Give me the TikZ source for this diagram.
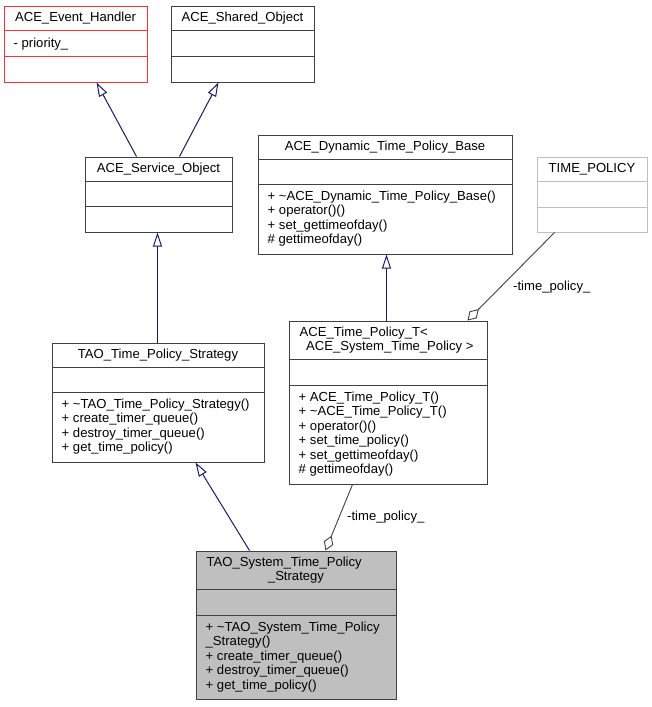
\documentclass[tikz,border=0pt]{standalone}
\usepackage{fontspec}
\setmainfont{Liberation Sans}
\usetikzlibrary{arrows.meta,fit,calc}
\definecolor{edgeblue}{HTML}{191970}
\definecolor{boxline}{HTML}{404040}
\definecolor{redline}{HTML}{FF3030}
\definecolor{lightline}{HTML}{BFBFBF}
\definecolor{grayfill}{HTML}{BFBFBF}
\newcommand\umlseps[4]{%
  \draw[#4,line width=0.9pt] ($(#1.north west)+(0,#2)$) -- ($(#1.north east)+(0,#2)$);
  \draw[#4,line width=0.9pt] ($(#1.north west)+(0,#3)$) -- ($(#1.north east)+(0,#3)$);}
\begin{document}
\begin{tikzpicture}[x=1pt,y=-1pt,
  box/.style={draw=boxline,line width=1pt,inner sep=0pt},
  ttl/.style={anchor=base,inner sep=0pt,font=\fontsize{13.1}{14.4}\selectfont},
  ttlw/.style={anchor=base west,inner sep=0pt,font=\fontsize{13.1}{14.4}\selectfont},
  mem/.style={anchor=base west,inner sep=0pt,font=\fontsize{13.1}{14.4}\selectfont},
  lbl/.style={anchor=base west,inner sep=0pt,font=\fontsize{13.1}{14.4}\selectfont},
  inh/.style={draw=edgeblue,line width=1pt,-{Triangle[open,length=14pt,width=9pt,fill=white]}},
  agg/.style={draw=boxline,line width=0.9pt,-{Diamond[open,length=16pt,width=10pt,fill=white]}}]
\useasboundingbox (0,0) rectangle (652,707);

% boxes
\node[box,draw=redline,fit={(4,6)(147,82)}] (eh) {};
\node[box,fit={(171,6)(314,82)}] (so) {};
\node[box,fit={(85,157)(232,232)}] (svc) {};
\node[box,fit={(258,135)(512,254)}] (dyn) {};
\node[box,draw=lightline,fit={(537,157)(647,232)}] (tp) {};
\node[box,fit={(289,321)(487,484)}] (tpt) {};
\node[box,fit={(52,343)(264,462)}] (tps) {};
\node[box,fill=grayfill,fit={(196,551)(396,699)}] (tsys) {};

\umlseps{eh}{25}{50.5}{redline}
\umlseps{so}{25}{50.5}{boxline}
\umlseps{svc}{25}{50}{boxline}
\umlseps{dyn}{25}{50}{boxline}
\umlseps{tp}{25}{51}{lightline}
\umlseps{tpt}{39}{65}{boxline}
\umlseps{tps}{25}{50}{boxline}
\umlseps{tsys}{39}{65}{boxline}

% titles
\node[ttl] (eht) at ($(eh.north)+(0,16)$) {ACE\_Event\_Handler};
\node[ttl] (sot) at ($(so.north)+(0,16)$) {ACE\_Shared\_Object};
\node[ttl] (svct) at ($(svc.north)+(0,16)$) {ACE\_Service\_Object};
\node[ttl] (dynt) at ($(dyn.north)+(0,16)$) {ACE\_Dynamic\_Time\_Policy\_Base};
\node[ttl] (tpti) at ($(tp.north)+(0,16)$) {TIME\_POLICY};
\node[ttlw] (tptt1) at ($(tpt.north west)+(11,16)$) {ACE\_Time\_Policy\_T<};
\node[ttl] (tptt2) at ($(tpt.north)+(0,30)$) {\ ACE\_System\_Time\_Policy >};
\node[ttl] (tpst) at ($(tps.north)+(0,16)$) {TAO\_Time\_Policy\_Strategy};
\node[ttlw] (tsyst1) at ($(tsys.north west)+(11,16)$) {TAO\_System\_Time\_Policy};
\node[ttl] (tsyst2) at ($(tsys.north)+(0,30)$) {\_Strategy};

% members
\node[mem] (ehm) at ($(eh.north west)+(10,41.5)$) {- priority\_};
\foreach \t [count=\i from 0] in {{+ \textasciitilde ACE\_Dynamic\_Time\_Policy\_Base()},{+ operator()()},{+ set\_gettimeofday()},{\# gettimeofday()}}
  \node[mem] (dynm\i) at ($(dyn.north west)+(10,66+14.4*\i)$) {\t};
\foreach \t [count=\i from 0] in {{+ ACE\_Time\_Policy\_T()},{+ \textasciitilde ACE\_Time\_Policy\_T()},{+ operator()()},{+ set\_time\_policy()},{+ set\_gettimeofday()},{\# gettimeofday()}}
  \node[mem] (tptm\i) at ($(tpt.north west)+(10,81+14.4*\i)$) {\t};
\foreach \t [count=\i from 0] in {{+ \textasciitilde TAO\_Time\_Policy\_Strategy()},{+ create\_timer\_queue()},{+ destroy\_timer\_queue()},{+ get\_time\_policy()}}
  \node[mem] (tpsm\i) at ($(tps.north west)+(10,66+14.4*\i)$) {\t};
\foreach \t [count=\i from 0] in {{+ \textasciitilde TAO\_System\_Time\_Policy},{\_Strategy()},{+ create\_timer\_queue()},{+ destroy\_timer\_queue()},{+ get\_time\_policy()}}
  \node[mem] (tsysm\i) at ($(tsys.north west)+(10,81+14.4*\i)$) {\t};

% inheritance
\draw[inh] ($(svc.north west)+(52,0)$) -- ($(eh.south west)+(93,0)$);
\draw[inh] ($(svc.north west)+(95,0)$) -- ($(so.south west)+(48,0)$);
\draw[inh] ($(tps.north west)+(106,0)$) -- ($(svc.south west)+(73,0)$);
\draw[inh] ($(tpt.north west)+(98,0)$) -- ($(dyn.south west)+(129,0)$);
\draw[inh] ($(tsys.north west)+(54,0)$) -- ($(tps.south west)+(144,0)$);

% aggregation
\draw[agg] ($(tp.south west)+(18,0)$) -- ($(tpt.north west)+(179,0)$);
\draw[agg] ($(tpt.south west)+(64,0)$) -- ($(tsys.north west)+(130,0)$);
\node[lbl] (l1) at (513,290) {-time\_policy\_};
\node[lbl] (l2) at (347,520) {-time\_policy\_};
\end{tikzpicture}
\end{document}
